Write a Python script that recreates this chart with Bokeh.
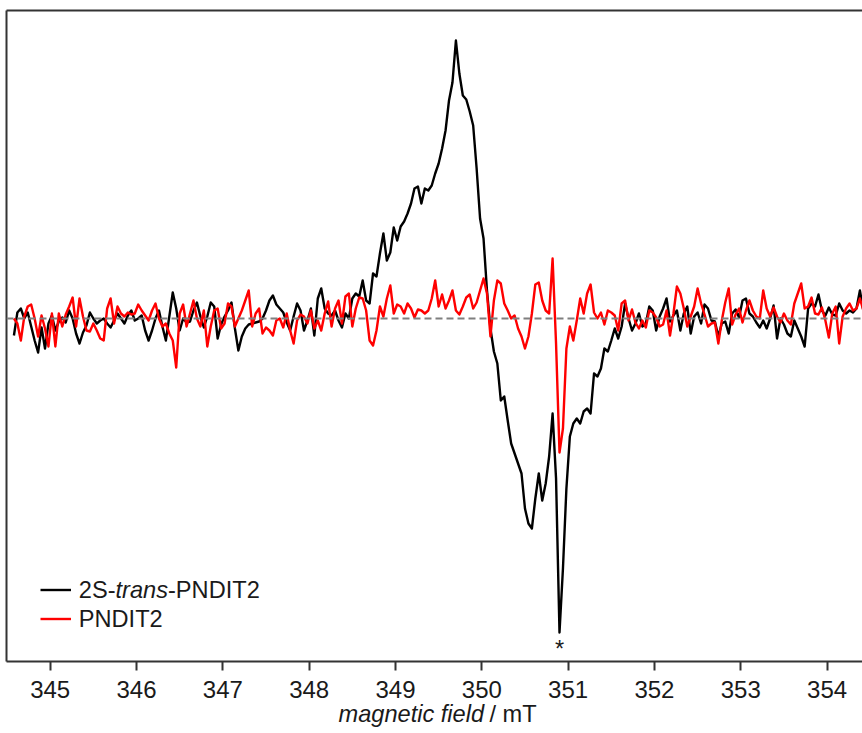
import numpy as np
from bokeh.plotting import figure
from bokeh.models import (Range1d, LinearAxis, FixedTicker, Span, Label,
                          Legend, LegendItem, Title)
from bokeh.embed import file_html
from bokeh.resources import INLINE

# Field sweep (mT), evenly stepped
field_mT = np.linspace(344.58, 354.42, 247)

# First-derivative EPR signal of 2S-trans-PNDIT2 (arb. units)
intensity_2s_trans = [
    -17, 6, 10, 0, 6, -8, -22, -34, -9, -30,
    -5, 3, -12, -3, 1, -4, 8, 0, -15, -25,
    -14, -7, 6, 0, -5, -2, 0, -5, -9, -2,
    5, 0, -5, 3, 8, -2, 0, 3, -12, -22,
    -12, 0, 8, -8, -22, 2, 26, 10, -12, 0,
    -4, -3, 8, 16, 2, -9, 2, 16, 12, -20,
    -6, 2, 8, 16, -10, -32, -18, -10, -6, -5,
    -4, -3, 0, 8, 18, 23, 14, 10, 6, -4,
    -12, 2, 15, 8, -12, -2, 10, -17, 20, 30,
    10, 5, 3, 8, -2, -9, 5, 0, 20, 25,
    22, 38, 18, 15, 45, 42, 65, 85, 58, 66,
    91, 78, 92, 97, 105, 115, 130, 132, 115, 130,
    128, 133, 145, 155, 170, 188, 218, 236, 278, 245,
    223, 219, 207, 193, 150, 100, 80, 28, -10, -33,
    -45, -82, -78, -102, -125, -135, -145, -155, -190, -205,
    -210, -180, -155, -182, -165, -138, -95, -160, -314, -250,
    -170, -118, -105, -100, -105, -93, -90, -95, -55, -58,
    -50, -30, -33, -22, -10, -20, -8, 15, 0, -12,
    -5, 5, -8, -5, 12, 8, -12, 2, 10, 20,
    -3, 3, 8, -12, 5, 12, -15, 2, 6, -5,
    14, 10, -2, -3, -18, -5, -3, -15, 5, 9,
    1, 18, 20, 5, 2, -4, -9, -2, -10, 0,
    13, -20, 0, -6, -15, -18, -2, -10, -18, -28,
    10, 15, 12, 24, 8, 3, 11, 4, 3, 15,
    8, 5, 8, 6, 10, 28, 8,
]

# EPR signal of PNDIT2 (arb. units)
intensity_pndit2 = [
    0, -5, -22, 2, 12, 14, 0, -18, 3, -10,
    -28, 5, -28, 5, -8, 4, 12, 21, -8, 20,
    2, -12, -13, -5, -12, -20, -22, 10, 20, -5,
    12, 5, 2, 6, 4, 5, 14, 8, 3, -2,
    8, 15, 0, -8, -5, -15, -22, -49, 5, 14,
    -8, 5, 18, 0, -8, 8, -28, -8, 8, 10,
    -10, -5, 15, 12, -8, 0, 8, 18, 28, -8,
    5, 10, -15, -9, -12, -17, -2, 0, -9, 5,
    -12, -25, -2, 4, 2, -5, 8, -10, -2, -12,
    5, 17, -8, 10, 18, -5, 22, 25, -8, 10,
    21, 20, 8, -22, -27, -12, 12, 2, 20, 33,
    5, 14, 12, 5, 15, 10, 1, 9, 8, 5,
    8, 20, 38, 12, 24, 10, 18, 28, 8, 4,
    12, 21, 24, 10, 16, 28, 40, 25, -18, 18,
    38, 35, 15, 8, 0, 3, -10, -18, -30, -18,
    5, 34, 36, 18, 8, 5, 60, -25, -134, -110,
    -30, -8, -22, -2, 20, 5, 25, 34, 6, 0,
    6, -6, 8, 6, 3, -12, 15, 18, -2, 9,
    -4, -10, -2, -9, 8, 6, 1, -8, -6, 8,
    -17, 5, 32, 25, 10, -8, 2, 12, 30, 15,
    4, -8, -5, -4, -25, -2, 16, 30, -6, 4,
    10, -4, 8, 18, 8, 2, 0, 28, 10, 2,
    11, 2, -4, 5, -2, -6, 15, 25, 35, 10,
    12, 21, 5, 4, 11, -2, -19, 5, 12, -25,
    2, 10, 15, 8, 10, 20, 8,
]

field_ticks = [345, 346, 347, 348, 349, 350, 351, 352, 353, 354]

FONT = "Liberation Sans"
INK = "#1a1a1a"
AXIS_INK = "#333333"
TEXT_SIZE = "23.6px"

p = figure(width=862, height=733, output_backend="svg", toolbar_location=None,
           x_range=Range1d(344.494, 354.41), y_range=Range1d(-343, 308),
           min_border_left=6, min_border_right=0,
           min_border_top=10, min_border_bottom=72)
p.outline_line_color = None
p.grid.visible = False
p.background_fill_color = "white"

# bottom axis with outward ticks
xa = p.xaxis[0]
xa.ticker = FixedTicker(ticks=field_ticks)
xa.axis_line_color = AXIS_INK
xa.axis_line_width = 2
xa.major_tick_line_color = AXIS_INK
xa.major_tick_line_width = 2
xa.major_tick_out = 9
xa.major_tick_in = 0
xa.minor_tick_line_color = None
xa.major_label_text_font = FONT
xa.major_label_text_font_size = "24px"
xa.major_label_text_color = INK
xa.major_label_standoff = 10


def bare_axis(ax):
    ax.ticker = FixedTicker(ticks=[])
    ax.axis_line_color = AXIS_INK
    ax.axis_line_width = 2
    ax.major_tick_line_color = None
    ax.minor_tick_line_color = None
    ax.major_tick_out = 0
    ax.major_tick_in = 0
    ax.major_label_standoff = 0
    ax.major_label_text_font_size = "0px"


bare_axis(p.yaxis[0])
top_axis = LinearAxis()
bare_axis(top_axis)
p.add_layout(top_axis, "above")

r_black = p.line(field_mT, intensity_2s_trans, line_color="black",
                 line_width=2.4, line_join="round")
r_red = p.line(field_mT, intensity_pndit2, line_color="#ff0000",
               line_width=2.4, line_join="round")

# zero line
p.add_layout(Span(location=0, dimension="width", line_color="#7f7f7f",
                  line_width=2, line_dash="7 4"))

# legend swatches; the label text is set separately to allow italics
legend = Legend(items=[LegendItem(label="", renderers=[r_black]),
                       LegendItem(label="", renderers=[r_red])],
                location=(34, 28.5), glyph_width=31, glyph_height=29,
                label_height=29, label_width=0, label_standoff=0,
                spacing=0, padding=0, margin=0,
                border_line_color=None, background_fill_alpha=0,
                label_text_font_size="1px")
p.add_layout(legend)


def txt(x, y, s, style="normal", align="left", xu="screen",
        baseline="middle"):
    p.add_layout(Label(x=x, y=y, x_units=xu, y_units="screen", text=s,
                       text_font=FONT, text_font_size=TEXT_SIZE,
                       text_font_style=style, text_color=INK,
                       text_align=align, text_baseline=baseline))


txt(72.3, 72, "2S-")
txt(109.0, 72, "trans", "italic")
txt(161.5, 72, "-PNDIT2")
txt(72.3, 43, "PNDIT2")

# asterisk under the sharp minimum
i_min = int(np.argmin(intensity_2s_trans))
txt(float(field_mT[i_min]), 13, "*", align="center", xu="data",
    baseline="alphabetic")

# axis title: italic quantity, upright unit, on one row below the ticks;
# the unit part is top-anchored and pulled up into the quantity's row
t_qty = Title(text="magnetic field", align="left", offset=332, standoff=-3,
              text_font=FONT, text_font_size=TEXT_SIZE,
              text_font_style="italic", text_color=INK)
t_unit = Title(text="/ mT", align="left", offset=483, standoff=-50,
               vertical_align="top",
               text_font=FONT, text_font_size=TEXT_SIZE,
               text_font_style="normal", text_color=INK)
p.add_layout(t_qty, "below")
p.add_layout(t_unit, "below")

open("out.html", "w").write(file_html(p, INLINE))
